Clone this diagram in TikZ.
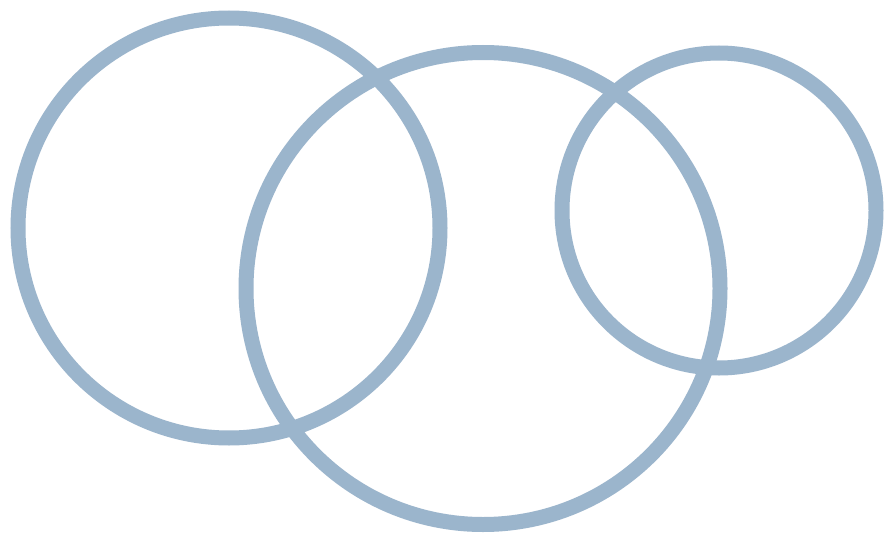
\documentclass[tikz,border=0pt]{standalone}
\definecolor{ring}{HTML}{9BB5CC}
\begin{document}
\begin{tikzpicture}[x=1pt,y=-1pt,ringstyle/.style={draw=ring,line width=15pt}]
\useasboundingbox (0,0) rectangle (884,535);
\fill[white] (0,0) rectangle (884,535);
\draw[ringstyle] (229,228) ellipse [x radius=211, y radius=210];
\draw[ringstyle] (483,288.5) ellipse [x radius=237, y radius=236];
\draw[ringstyle] (719,210.5) ellipse [x radius=157, y radius=157.5];
\end{tikzpicture}
\end{document}
